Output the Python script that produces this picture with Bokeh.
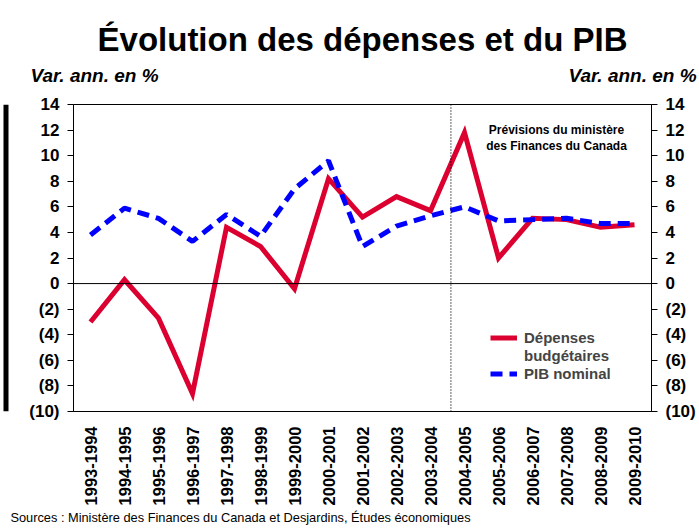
from bokeh.plotting import figure
from bokeh.models import (Range1d, LinearAxis, FixedTicker, Span,
                          Label, Legend, LegendItem, LinearScale)
from bokeh.layouts import row, column
from bokeh.embed import file_html
from bokeh.resources import INLINE
import math

# ---------------- data ----------------
years = ["1993-1994", "1994-1995", "1995-1996", "1996-1997", "1997-1998",
         "1998-1999", "1999-2000", "2000-2001", "2001-2002", "2002-2003",
         "2003-2004", "2004-2005", "2005-2006", "2006-2007", "2007-2008",
         "2008-2009", "2009-2010"]
depenses = [-3.0, 0.3, -2.7, -8.6, 4.4, 2.9, -0.4, 8.2, 5.2, 6.8, 5.7,
            11.8, 2.0, 5.1, 5.0, 4.4, 4.6]
pib = [3.8, 5.9, 5.1, 3.3, 5.4, 3.7, 7.4, 9.6, 2.9, 4.5, 5.3, 6.0, 4.9,
       5.0, 5.1, 4.7, 4.7]
y_ticks = [-10, -8, -6, -4, -2, 0, 2, 4, 6, 8, 10, 12, 14]
y_tick_labels = ["(10)", "(8)", "(6)", "(4)", "(2)", "0", "2", "4", "6",
                 "8", "10", "12", "14"]
forecast_start = 10.6   # dotted separator, in year-index units

title_text = "Évolution des dépenses et du PIB"
unit_text = "Var. ann. en %"
note_text = "Prévisions du ministère\ndes Finances du Canada"
source_text = "Sources : Ministère des Finances du Canada et Desjardins, Études économiques"
label_dep_1 = "Dépenses"
label_dep_2 = "budgétaires"
label_pib = "PIB nominal"

FONT = "Liberation Sans"
RED = "#DC0030"
BLUE = "#0000FF"
W = 690

idx = list(range(len(years)))


def blank(width, height, fill="white"):
    f = figure(width=width, height=height, x_range=Range1d(0, width),
               y_range=Range1d(height, 0), output_backend="svg",
               toolbar_location=None, x_axis_location=None, y_axis_location=None,
               min_border=0)
    f.title = None
    f.outline_line_color = None
    f.xgrid.grid_line_color = None
    f.ygrid.grid_line_color = None
    f.background_fill_color = fill
    f.border_fill_color = fill
    return f


# ---------------- page border (left and top) ----------------
topbar = blank(699, 7)
topbar.add_layout(Span(location=5, dimension="width", line_color="black", line_width=4))
bar = blank(9, 522)
bar.add_layout(Span(location=5.5, dimension="height", line_color="black", line_width=5))

# ---------------- main chart ----------------
p = figure(x_range=Range1d(-0.5, len(years) - 0.5), y_range=Range1d(-10, 14),
           width=W, height=522, output_backend="svg", toolbar_location=None,
           min_border_left=64, min_border_right=48, min_border_top=97,
           min_border_bottom=118)
p.title = None
p.background_fill_color = "white"
p.border_fill_color = "white"
p.outline_line_color = "black"
p.outline_line_width = 1
p.xgrid.grid_line_color = None
p.ygrid.grid_line_color = None
# helper range in page pixels spanning the frame, used for header/footer texts
p.extra_x_ranges = {"page": Range1d(73, 651)}
p.extra_x_scales = {"page": LinearScale()}

overrides = {float(v): t for v, t in zip(y_ticks, y_tick_labels)}


def style_y(ax):
    ax.ticker = FixedTicker(ticks=y_ticks)
    ax.major_label_overrides = overrides
    ax.axis_line_color = "black"
    ax.major_tick_line_color = "black"
    ax.major_tick_out = 6
    ax.major_tick_in = 0
    ax.minor_tick_line_color = None
    ax.major_label_standoff = 8
    ax.major_label_text_font = FONT
    ax.major_label_text_font_style = "bold"
    ax.major_label_text_font_size = "17px"
    ax.major_label_text_color = "black"


style_y(p.yaxis[0])
right_axis = LinearAxis()
style_y(right_axis)
p.add_layout(right_axis, "right")

xa = p.xaxis[0]
xa.ticker = FixedTicker(ticks=idx)
xa.major_label_overrides = {float(i): y for i, y in zip(idx, years)}
xa.axis_line_color = "black"
xa.major_tick_line_color = None
xa.major_tick_out = 0
xa.major_tick_in = 0
xa.minor_tick_line_color = None
xa.major_label_orientation = math.pi / 2
xa.major_label_standoff = 15
xa.major_label_text_font = FONT
xa.major_label_text_font_style = "bold"
xa.major_label_text_font_size = "16.5px"
xa.major_label_text_color = "black"


def text_axis(ticks, labels):
    ax = LinearAxis(x_range_name="page", ticker=FixedTicker(ticks=ticks),
                    major_label_overrides={float(t): s for t, s in zip(ticks, labels)})
    ax.axis_line_color = None
    ax.major_tick_line_color = None
    ax.minor_tick_line_color = None
    ax.major_tick_out = 0
    ax.major_tick_in = 0
    ax.major_label_text_color = "black"
    ax.major_label_text_font = FONT
    return ax


# header: unit labels (tick labels) + title (axis label)
top_ax = text_axis([94, 632], [unit_text, unit_text])
top_ax.major_label_standoff = 19
top_ax.major_label_text_font_style = "bold italic"
top_ax.major_label_text_font_size = "19px"
top_ax.axis_label = title_text
top_ax.axis_label_standoff = 4
top_ax.axis_label_text_font = FONT
top_ax.axis_label_text_font_style = "bold"
top_ax.axis_label_text_font_size = "33px"
top_ax.axis_label_text_color = "black"
p.add_layout(top_ax, "above")

# footer: source
bot_ax = text_axis([240], [source_text])
bot_ax.major_label_standoff = 1
bot_ax.major_label_text_font_style = "normal"
bot_ax.major_label_text_font_size = "12.8px"
p.add_layout(bot_ax, "below")

p.add_layout(Span(location=0, dimension="width", line_color="black", line_width=1))
p.add_layout(Span(location=forecast_start, dimension="height", line_color="black",
                  line_width=1.2, line_dash="1 2"))

r_dep = p.line(idx, depenses, line_color=RED, line_width=5, line_join="miter")
r_pib = p.line(idx, pib, line_color=BLUE, line_width=5, line_dash="12 7")
# glyph-less helper so the second line of the red label has no sample
r_none = p.line(x=[], y=[], line_color=None)

legend = Legend(items=[LegendItem(label=label_dep_1, renderers=[r_dep]),
                       LegendItem(label=label_dep_2, renderers=[r_none]),
                       LegendItem(label=label_pib, renderers=[r_pib])],
                location=(417, 29), padding=0, margin=0, spacing=1,
                glyph_width=27, glyph_height=17, label_height=17, label_standoff=7,
                label_text_font=FONT, label_text_font_style="bold",
                label_text_font_size="15px",
                background_fill_alpha=0, border_line_color=None)
p.add_layout(legend, "center")

p.add_layout(Label(x=483, y=289, x_units="screen", y_units="screen", text=note_text,
                   text_align="center", text_baseline="top", text_line_height=1.2,
                   text_font=FONT, text_font_style="bold", text_font_size="12px",
                   text_color="black"))

layout = column(topbar, row(bar, p, spacing=0), spacing=0)
open("out.html", "w").write(file_html(layout, INLINE))
